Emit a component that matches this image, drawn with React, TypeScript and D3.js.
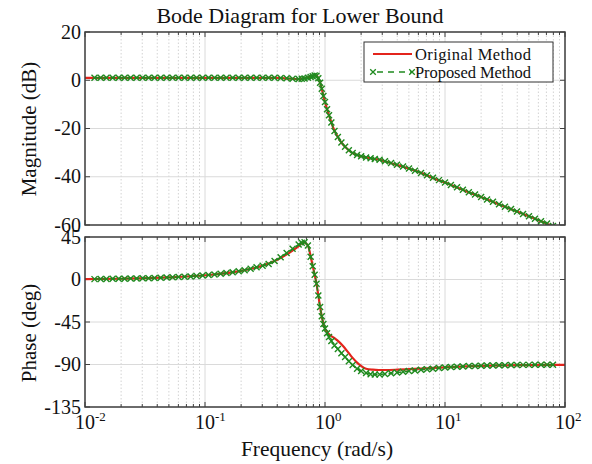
import React, { useEffect, useRef } from "react"
import * as d3 from "d3"

const title = "Bode Diagram for Lower Bound"
const magTicks = [20, 0, -20, -40, -60]
const phaseTicks = [45, 0, -45, -90, -135]
const decadeExps = [-2, -1, 0, 1, 2]
const legendLabels = ["Original Method", "Proposed Method"]

// original method (red solid line)
const origFreq = [0.01, 0.02, 0.05, 0.1, 0.2, 0.3, 0.4, 0.5, 0.6, 0.66, 0.72, 0.77, 0.82, 0.85, 0.88, 0.91, 0.94, 0.97, 1.0, 1.04, 1.08, 1.13, 1.2, 1.28, 1.37, 1.47, 1.58, 1.7, 1.85, 2.0, 2.2, 2.5, 2.8, 3.2, 4, 5, 6.3, 8, 10, 15, 20, 30, 50, 70, 100]
const origMag = [1.0, 1.0, 1.0, 1.0, 1.0, 1.0, 0.95, 0.7, 0.5, 0.7, 1.2, 1.6, 2.0, 1.9, 0.8, -1.0, -3.5, -6.5, -9, -12, -14.5, -17.5, -21, -23.5, -25.8, -27.6, -29, -30.2, -31, -31.5, -32, -32.5, -32.9, -33.7, -35.2, -36.6, -38.4, -40.6, -42.4, -46, -48.4, -52, -56.4, -59.4, -62.4]
const origPhase = [0.3, 0.8, 2.2, 4.5, 9.2, 14.5, 21, 28, 35, 39.5, 36, 21, 5, -4.6, -17, -29, -39, -47, -52, -55.5, -58, -60, -62, -65, -68.5, -73, -78, -83, -88, -91.5, -94.5, -95.5, -95.8, -95.8, -95.5, -95, -94.4, -93.6, -93, -92, -91.5, -91, -90.6, -90.4, -90.3]

// proposed method (green dashed line with x markers)
const propFreq = [0.012, 0.0135, 0.0151, 0.017, 0.0191, 0.0214, 0.024, 0.0269, 0.0302, 0.0339, 0.038, 0.0427, 0.0479, 0.0537, 0.0603, 0.0676, 0.0759, 0.0851, 0.0955, 0.107, 0.12, 0.135, 0.151, 0.17, 0.191, 0.214, 0.24, 0.269, 0.302, 0.339, 0.38, 0.427, 0.479, 0.537, 0.603, 0.64, 0.676, 0.72, 0.759, 0.79, 0.82, 0.85, 0.88, 0.91, 0.94, 0.97, 1.0, 1.04, 1.08, 1.13, 1.2, 1.28, 1.37, 1.47, 1.58, 1.7, 1.85, 2.0, 2.2, 2.4, 2.6, 2.85, 3.16, 3.55, 3.98, 4.47, 5.01, 5.62, 6.31, 7.08, 7.94, 8.91, 10, 11.2, 12.6, 14.1, 15.8, 17.8, 20, 22.4, 25.1, 28.2, 31.6, 35.5, 39.8, 44.7, 50.1, 56.2, 63.1, 70.8, 79.4]
const propMag = [1.0, 1.0, 1.0, 1.0, 1.0, 1.0, 1.0, 1.0, 1.0, 1.0, 1.0, 1.0, 1.0, 1.0, 1.0, 1.0, 1.0, 1.0, 1.0, 1.0, 1.0, 1.0, 1.0, 1.0, 1.0, 1.0, 1.0, 1.0, 1.0, 1.0, 1.0, 0.9, 0.8, 0.6, 0.5, 0.6, 0.7, 1.0, 1.3, 1.7, 2.0, 1.9, 0.8, -1.0, -3.5, -6.5, -9, -12, -14.5, -17.5, -21, -23.5, -25.8, -27.6, -29, -30.2, -31, -31.5, -32, -32.3, -32.6, -33, -33.6, -34.3, -35, -35.8, -36.6, -37.5, -38.4, -39.4, -40.4, -41.4, -42.4, -43.4, -44.4, -45.4, -46.4, -47.4, -48.4, -49.4, -50.4, -51.4, -52.4, -53.4, -54.4, -55.4, -56.4, -57.4, -58.4, -59.4, -60.4]
const propPhase = [0.4, 0.5, 0.6, 0.7, 0.8, 0.9, 1.0, 1.1, 1.3, 1.4, 1.6, 1.8, 2.0, 2.3, 2.6, 2.9, 3.3, 3.7, 4.2, 4.7, 5.3, 6.0, 6.8, 7.7, 8.7, 9.9, 11.3, 12.9, 14.5, 16.5, 19.5, 23.5, 28, 32.5, 37, 39, 39.5, 36, 24, 14, 5, -4.6, -17, -29, -39, -47, -52, -57, -61, -65, -70, -73.5, -78, -82, -86.5, -90.5, -94.5, -97, -99, -100.2, -100.6, -100.5, -100, -99.3, -98.5, -97.8, -97, -96.3, -95.6, -95, -94.4, -93.8, -93.2, -92.7, -92.3, -92, -91.7, -91.5, -91.3, -91.1, -91, -90.8, -90.7, -90.6, -90.5, -90.4, -90.4, -90.3, -90.3, -90.2, -90.2]

const RED = "#e3241c"
const GREEN = "#1f8a1f"
const FONT = "'Liberation Serif', 'Times New Roman', serif"

export default function App() {
    const ref = useRef<SVGSVGElement>(null)

    useEffect(() => {
        const svg = d3.select(ref.current)
        svg.selectAll("*").remove()

        const left = 85
        const right = 565
        const x = d3.scaleLog().domain([0.01, 100]).range([left, right])

        const panels = [
            { key: "mag", y: d3.scaleLinear().domain([-60, 20]).range([225, 32]), ticks: magTicks, orig: origMag, prop: propMag, label: "Magnitude (dB)", labelY: 129 },
            { key: "phase", y: d3.scaleLinear().domain([-135, 45]).range([407, 237]), ticks: phaseTicks, orig: origPhase, prop: propPhase, label: "Phase (deg)", labelY: 333 },
        ]

        const allTicks = x.ticks(40)
        const isMajor = (f: number) => Math.abs(Math.log10(f) - Math.round(Math.log10(f))) < 1e-6

        panels.forEach(p => {
            const [yBot, yTop] = p.y.range()
            const g = svg.append("g")

            // grid
            g.append("g")
                .selectAll("line")
                .data(allTicks.filter(f => !isMajor(f)))
                .enter()
                .append("line")
                .attr("x1", d => x(d)).attr("x2", d => x(d))
                .attr("y1", yTop).attr("y2", yBot)
                .attr("stroke", "#c8c8c8")
                .attr("stroke-width", 0.8)
                .attr("stroke-dasharray", "1.5,2")
            g.append("g")
                .selectAll("line")
                .data(allTicks.filter(isMajor))
                .enter()
                .append("line")
                .attr("x1", d => x(d)).attr("x2", d => x(d))
                .attr("y1", yTop).attr("y2", yBot)
                .attr("stroke", "#dadada")
                .attr("stroke-width", 1)
            g.append("g")
                .selectAll("line")
                .data(p.ticks)
                .enter()
                .append("line")
                .attr("x1", left).attr("x2", right)
                .attr("y1", d => p.y(d)).attr("y2", d => p.y(d))
                .attr("stroke", "#dadada")
                .attr("stroke-width", 1)

            // tick marks, inside, all four sides
            const tk = g.append("g").attr("stroke", "#404040").attr("stroke-width", 1)
            allTicks.forEach(f => {
                const len = isMajor(f) ? 5 : 3
                tk.append("line").attr("x1", x(f)).attr("x2", x(f)).attr("y1", yBot).attr("y2", yBot - len)
                tk.append("line").attr("x1", x(f)).attr("x2", x(f)).attr("y1", yTop).attr("y2", yTop + len)
            })
            p.ticks.forEach(v => {
                tk.append("line").attr("x1", left).attr("x2", left + 5).attr("y1", p.y(v)).attr("y2", p.y(v))
                tk.append("line").attr("x1", right).attr("x2", right - 5).attr("y1", p.y(v)).attr("y2", p.y(v))
            })

            // y tick labels
            g.append("g")
                .selectAll("text")
                .data(p.ticks)
                .enter()
                .append("text")
                .attr("x", left - 4)
                .attr("y", d => p.y(d) + 6.5)
                .attr("text-anchor", "end")
                .attr("font-family", FONT)
                .attr("font-size", 20)
                .attr("fill", "#111")
                .text(d => String(d))

            // y label
            g.append("text")
                .attr("transform", `translate(36,${p.labelY}) rotate(-90)`)
                .attr("text-anchor", "middle")
                .attr("font-family", FONT)
                .attr("font-size", 21)
                .attr("fill", "#111")
                .text(p.label)

            // clip
            const clipId = "clip-" + p.key
            svg.append("clipPath").attr("id", clipId)
                .append("rect").attr("x", left).attr("y", yTop).attr("width", right - left).attr("height", yBot - yTop)

            const data = g.append("g").attr("clip-path", `url(#${clipId})`)
            const origPts = origFreq.map((f, i) => [f, p.orig[i]] as [number, number])
            const propPts = propFreq.map((f, i) => [f, p.prop[i]] as [number, number])
            const line = d3.line<[number, number]>()
                .x(d => x(d[0]))
                .y(d => p.y(d[1]))
                .curve(d3.curveMonotoneX)

            data.append("path")
                .attr("d", line(origPts))
                .attr("fill", "none")
                .attr("stroke", RED)
                .attr("stroke-width", 2.2)

            data.append("path")
                .attr("d", line(propPts))
                .attr("fill", "none")
                .attr("stroke", GREEN)
                .attr("stroke-width", 1.5)
                .attr("stroke-dasharray", "5,3")

            const s = 3
            data.append("g")
                .selectAll("path")
                .data(propPts)
                .enter()
                .append("path")
                .attr("d", d => {
                    const cx = x(d[0]), cy = p.y(d[1])
                    return `M${cx - s},${cy - s}L${cx + s},${cy + s}M${cx - s},${cy + s}L${cx + s},${cy - s}`
                })
                .attr("stroke", GREEN)
                .attr("stroke-width", 1.4)

            // box
            g.append("rect")
                .attr("x", left).attr("y", yTop)
                .attr("width", right - left).attr("height", yBot - yTop)
                .attr("fill", "none")
                .attr("stroke", "#404040")
                .attr("stroke-width", 1.5)
        })

        // x tick labels
        const xl = svg.append("g")
            .attr("font-family", FONT)
            .attr("fill", "#111")
        decadeExps.forEach(e => {
            const t = xl.append("text")
                .attr("x", x(Math.pow(10, e)) - 10)
                .attr("y", 429)
                .attr("font-size", 20)
            t.append("tspan").text("10")
            t.append("tspan").attr("dy", -8).attr("font-size", 13).text(String(e))
        })

        svg.append("text")
            .attr("x", 317)
            .attr("y", 456)
            .attr("text-anchor", "middle")
            .attr("font-family", FONT)
            .attr("font-size", 21.5)
            .attr("fill", "#111")
            .text("Frequency (rad/s)")

        svg.append("text")
            .attr("x", 300)
            .attr("y", 23)
            .attr("text-anchor", "middle")
            .attr("font-family", FONT)
            .attr("font-size", 22)
            .attr("fill", "#111")
            .text(title)

        // legend
        const lg = svg.append("g")
        lg.append("rect")
            .attr("x", 364).attr("y", 42)
            .attr("width", 189).attr("height", 40)
            .attr("fill", "white")
            .attr("stroke", "#333")
            .attr("stroke-width", 1)
        lg.append("line")
            .attr("x1", 373).attr("x2", 412).attr("y1", 54).attr("y2", 54)
            .attr("stroke", RED).attr("stroke-width", 2)
        lg.append("line")
            .attr("x1", 373).attr("x2", 412).attr("y1", 72).attr("y2", 72)
            .attr("stroke", GREEN).attr("stroke-width", 1.4).attr("stroke-dasharray", "6,5")
            .attr("stroke-dashoffset", -4)
        ;[373, 412].forEach(cx => {
            const s = 2.8
            lg.append("path")
                .attr("d", `M${cx - s},${72 - s}L${cx + s},${72 + s}M${cx - s},${72 + s}L${cx + s},${72 - s}`)
                .attr("stroke", GREEN).attr("stroke-width", 1.3)
        })
        lg.selectAll("text.lab")
            .data(legendLabels)
            .enter()
            .append("text")
            .attr("class", "lab")
            .attr("x", 415)
            .attr("y", (d, i) => 59.5 + i * 18)
            .attr("font-family", FONT)
            .attr("font-size", 16.5)
            .attr("textLength", 116)
            .attr("lengthAdjust", "spacing")
            .attr("fill", "#111")
            .text(d => d)
    }, [])

    return (
        <svg ref={ref} width={592} height={464}
            style={{ position: "absolute", left: 0, top: 0, background: "white" }} />
    )
}
